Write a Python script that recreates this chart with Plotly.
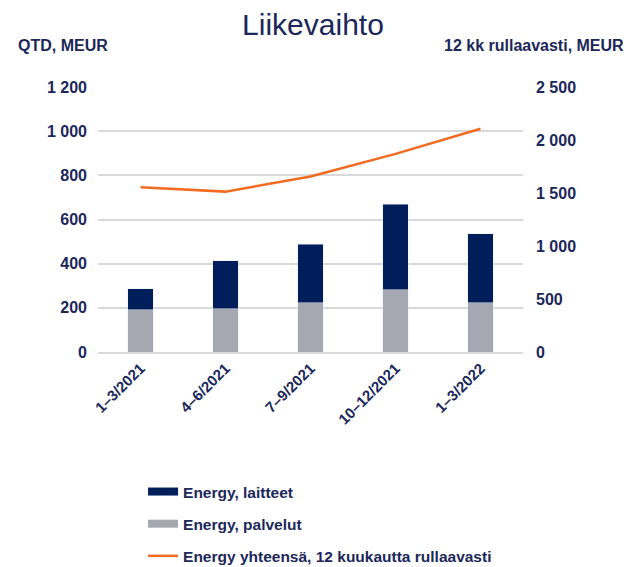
import plotly.graph_objects as go

# quarterly revenue, MEUR
quarters = ["1–3/2021", "4–6/2021", "7–9/2021", "10–12/2021", "1–3/2022"]
palvelut = [192, 197, 222, 283, 222]
laitteet = [94, 216, 265, 387, 314]
rolling_12m = [1554, 1513, 1655, 1869, 2106]

left_ticks = [0, 200, 400, 600, 800, 1000, 1200]
left_labels = ["0", "200", "400", "600", "800", "1 000", "1 200"]
right_ticks = [0, 500, 1000, 1500, 2000, 2500]
right_labels = ["0", "500", "1 000", "1 500", "2 000", "2 500"]

NAVY = "#001e5a"
GREY = "#a5a8b0"
ORANGE = "#f26b21"
TXT = "#1b2759"
FONT = "Liberation Sans"

fig = go.Figure()
fig.add_trace(go.Bar(x=quarters, y=palvelut, marker_color=GREY, showlegend=False,
                     name="Energy, palvelut"))
fig.add_trace(go.Bar(x=quarters, y=laitteet, marker_color=NAVY, showlegend=False,
                     name="Energy, laitteet"))
fig.add_trace(go.Scatter(x=quarters, y=rolling_12m, yaxis="y2", mode="lines",
                         line=dict(color=ORANGE, width=2.5), showlegend=False,
                         name="Energy yhteensä, 12 kuukautta rullaavasti"))

# legend entries drawn as thick lines like the original
for name, col, w in [("Energy, laitteet", NAVY, 8),
                     ("Energy, palvelut", GREY, 8),
                     ("Energy yhteensä, 12 kuukautta rullaavasti", ORANGE, 2.5)]:
    fig.add_trace(go.Scatter(x=[None], y=[None], mode="lines", name=name,
                             legendgroup=name, line=dict(color=col, width=w)))

# page body adds an 8px offset, so layout is shifted up/left by 8px
fig.update_layout(
    width=638, height=567,
    paper_bgcolor="white", plot_bgcolor="white",
    barmode="stack", bargap=0.7,
    margin=dict(l=90, r=123, t=79, b=223, autoexpand=False),
    font=dict(family=FONT, color=TXT, size=15),
    title=dict(text="Liikevaihto", x=0.478, xanchor="center", y=0.971, yanchor="middle",
               font=dict(size=30, color=TXT, family=FONT)),
    xaxis=dict(tickangle=-45, showline=True, linecolor="#d9d9d9", linewidth=1.5,
               tickfont=dict(size=15, family=FONT, weight="bold"), ticks="",
               automargin=False),
    yaxis=dict(range=[0, 1200], tickvals=left_ticks, ticktext=left_labels,
               showgrid=True, gridcolor="#d9d9d9", gridwidth=1.5, zeroline=False,
               tickfont=dict(size=16, weight="bold"), ticklabelstandoff=10,
               automargin=False),
    yaxis2=dict(range=[0, 2500], tickvals=right_ticks, ticktext=right_labels,
                overlaying="y", side="right", showgrid=False, zeroline=False,
                tickfont=dict(size=16, weight="bold"), ticklabelstandoff=12,
                automargin=False),
    legend=dict(x=0.106, xanchor="left", y=-0.464, yanchor="top",
                tracegroupgap=9, font=dict(size=15.5, weight="bold", color=TXT),
                bgcolor="rgba(0,0,0,0)"),
    annotations=[
        dict(text="QTD, MEUR", xref="paper", yref="paper", x=-0.193, y=1.158,
             xanchor="left", yanchor="middle", showarrow=False,
             font=dict(size=16, weight="bold", color=TXT)),
        dict(text="12 kk rullaavasti, MEUR", xref="paper", yref="paper", x=1.242, y=1.158,
             xanchor="right", yanchor="middle", showarrow=False,
             font=dict(size=16, weight="bold", color=TXT)),
    ],
)

fig.write_html("out.html")
